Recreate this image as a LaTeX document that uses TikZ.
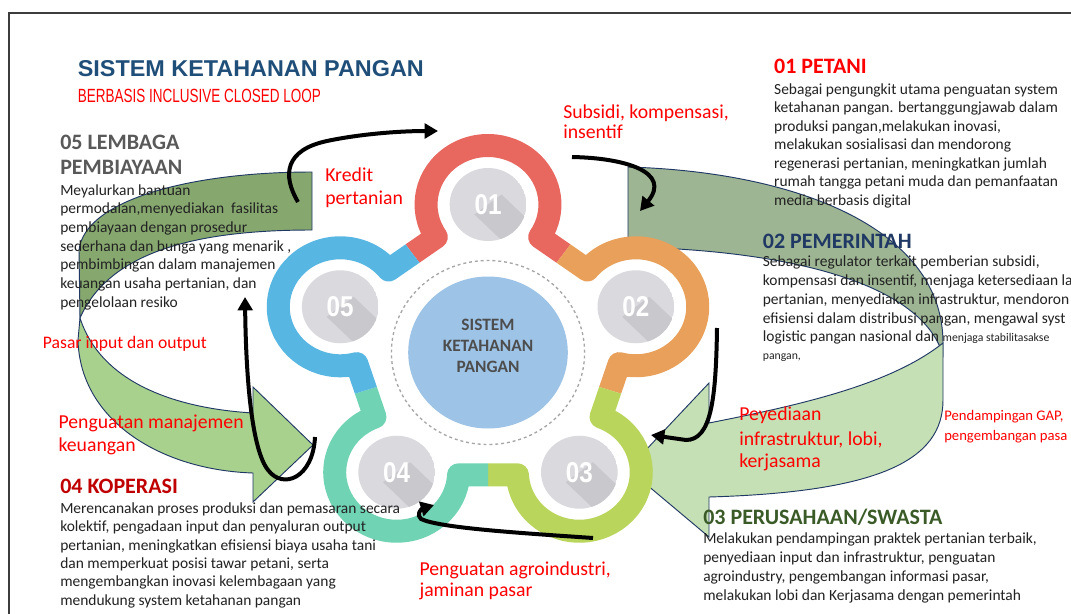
\documentclass[tikz,border=0pt]{standalone}
\usepackage{fontspec}
\setmainfont{Carlito}
\newfontfamily\titlefont{Liberation Sans}
\usetikzlibrary{arrows.meta}
\definecolor{c1}{HTML}{E8675F}
\definecolor{c2}{HTML}{E8A05A}
\definecolor{c3}{HTML}{B9D55B}
\definecolor{c4}{HTML}{70D3B3}
\definecolor{c5}{HTML}{58B6E2}
\definecolor{diskc}{HTML}{DADADE}
\definecolor{diskshadow}{HTML}{C9C9CD}
\definecolor{core}{HTML}{9DC3E6}
\definecolor{navy}{HTML}{1F3864}
\definecolor{titleblue}{HTML}{1F4E79}
\definecolor{darkred}{HTML}{C00000}
\definecolor{dkgreen}{HTML}{3A5A27}
\definecolor{headgray}{HTML}{595959}
\definecolor{bodytext}{HTML}{222222}
\definecolor{coretext}{HTML}{4D4D4D}
\definecolor{lgA}{HTML}{86A86F}
\definecolor{lgB}{HTML}{A9D18E}
\definecolor{rgA}{HTML}{9DB592}
\definecolor{rgB}{HTML}{C5E0B4}
\definecolor{outline}{HTML}{203864}
\definecolor{framec}{HTML}{3C3C3C}
\tikzset{
  body/.style={anchor=base west, inner sep=0pt, text=bodytext, font=\fontsize{11.6}{13.6}\selectfont},
  head/.style={anchor=base west, inner sep=0pt, font=\fontsize{16.5}{20}\selectfont\bfseries},
  lbl/.style={anchor=base west, inner sep=0pt, text=red, font=\fontsize{#1}{#1}\selectfont},
  lbl/.default=14.8,
  band/.style={draw=outline, line width=0.7pt},
  flow/.style={line width=3pt, -{Triangle[length=10pt,width=11pt]}},
  coretxt/.style={anchor=base, inner sep=0pt, text=coretext, font=\fontsize{13}{15}\selectfont\bfseries},
  numtxt/.style={inner sep=0pt, text=white},
  flower/.style={insert path={(-49.20,115.44) arc[start angle=213.5, end angle=-33.5, radius=59]
     -- (94.59,82.46) arc[start angle=141.5, end angle=-105.5, radius=59]
     -- (107.65,-64.46) arc[start angle=69.5, end angle=-177.5, radius=59]
     -- (-28.05,-122.30) arc[start angle=-2.5, end angle=-249.5, radius=59]
     -- (-124.99,-11.12) arc[start angle=-74.5, end angle=-321.5, radius=59] -- cycle}}
}
\begin{document}
\begin{tikzpicture}[x=0.75pt,y=-0.75pt]
\useasboundingbox (0,0) rectangle (1071,614);
\fill[white] (0,0) rectangle (1071,614);
% frame
\draw[framec, line width=1.5pt] (1085,12.7) -- (8.6,12.7) -- (8.6,630);

% ---- right curved arrow
\filldraw[band, fill=rgA] (628,167) .. controls (800,172) and (943,230) .. (943,343)
   -- (943,355) .. controls (920,280) and (780,250) .. (628,247) -- cycle;
\filldraw[band, fill=rgB] (943,343) -- (943,400) .. controls (943,460) and (880,492) .. (709,497)
   -- (709,537) -- (628,469) -- (709,383) -- (709,423) .. controls (800,405) and (890,385) .. (943,343) -- cycle;
% ---- left curved arrow
\filldraw[band, fill=lgA] (312,172) .. controls (190,172) and (85,200) .. (79,250) -- (80,318)
   .. controls (110,250) and (200,230) .. (312,230) -- cycle;
\filldraw[band, fill=lgB] (80,318) .. controls (100,380) and (170,408) .. (253,413) -- (253,387)
   -- (313,445) -- (253,502) -- (253,473) .. controls (160,470) and (80,420) .. (78,340) -- cycle;

% ---- infographic
\begin{scope}[shift={(488,352.5)}, xscale=1.05, yscale=-1]
  \fill[white, flower];
  \foreach \a/\c in {90/c1, 18/c2, -54/c3, -126/c4, 162/c5} {
    \begin{scope}
      \clip (0,0) -- ({\a-36}:260) arc[start angle={\a-36}, end angle={\a+36}, radius=260] -- cycle;
      \draw[\c, line width=17.25pt, line join=round, flower];
    \end{scope}
  }
  \foreach \a/\n in {90/01, 18/02, -54/03, -126/04, 162/05} {
    \path (\a:148) coordinate (cc\n);
    \begin{scope}
      \clip (cc\n) circle (36.5);
      \fill[diskc] (cc\n) circle (36.5);
      \fill[diskshadow] (cc\n) ++(12.9,10) -- ++(70,-70) -- ++(-25.8,-20) -- ++(-70,70) -- cycle;
    \end{scope}
  }
  \draw[black!35, line width=1pt, dash pattern=on 2.2pt off 2.2pt] (0,0) circle (92);
  \fill[core] (0,0) circle (76);
\end{scope}
\foreach \n in {01,02,03,04,05}
  \node[numtxt] (num\n) at (cc\n) {\resizebox{20.2pt}{15pt}{\titlefont\bfseries \n}};

\node[coretxt] (core1) at (488,330) {SISTEM};
\node[coretxt] (core2) at (488,351.5) {KETAHANAN};
\node[coretxt] (core3) at (488,372.5) {PANGAN};

% ---- title
\node[anchor=base west, inner sep=0pt, text=titleblue] (title) at (77.6,76)
  {\resizebox{259.4pt}{12pt}{\titlefont\bfseries SISTEM KETAHANAN PANGAN}};
\node[anchor=base west, inner sep=0pt, text=red] (subtitle) at (77.6,102.7)
  {\resizebox{182.3pt}{10pt}{\titlefont BERBASIS INCLUSIVE CLOSED LOOP}};

% ---- 01 PETANI
\node[head, text=red] (h1) at (773.9,73.3) {01 PETANI};
\foreach \t [count=\k from 0] in {{Sebagai pengungkit utama penguatan system},{ketahanan pangan. bertanggungjawab dalam},{produksi pangan,melakukan inovasi,},{melakukan sosialisasi dan mendorong},{regenerasi pertanian, meningkatkan jumlah},{rumah tangga petani muda dan pemanfaatan},{media berbasis digital}}
  \node[body] (p1-\k) at (773.9,94+18.5*\k) {\t};

% ---- 02 PEMERINTAH
\node[head, text=navy] (h2) at (762.6,248.3) {02 PEMERINTAH};
\foreach \t [count=\k from 0] in {{Sebagai regulator terkait pemberian subsidi,},{kompensasi dan insentif, menjaga ketersediaan la},{pertanian, menyediakan infrastruktur, mendoron},{efisiensi dalam distribusi pangan, mengawal syst}}
  \node[body] (p2-\k) at (762.6,266.7+18.8*\k) {\t};
\node[body] (p2-4) at (762.6,341.7) {logistic pangan nasional dan {\fontsize{8.8}{10}\selectfont menjaga stabilitasakse}};
\node[body, font=\fontsize{8.8}{10}\selectfont] (p2-5) at (762.6,359.3) {pangan,};

% ---- 03 PERUSAHAAN/SWASTA
\node[head, text=dkgreen] (h3) at (703,524) {03 PERUSAHAAN/SWASTA};
\foreach \t [count=\k from 0] in {{Melakukan pendampingan praktek pertanian terbaik,},{penyediaan input dan infrastruktur, penguatan},{agroindustry, pengembangan informasi pasar,},{melakukan lobi dan Kerjasama dengan pemerintah}}
  \node[body] (p3-\k) at (703,543.3+18.9*\k) {\t};

% ---- 04 KOPERASI
\node[head, text=darkred] (h4) at (60,493.3) {04 KOPERASI};
\foreach \t [count=\k from 0] in {{Merencanakan proses produksi dan pemasaran secara},{kolektif, pengadaan input dan penyaluran output},{pertanian, meningkatkan efisiensi biaya usaha tani},{dan memperkuat posisi tawar petani, serta},{mengembangkan inovasi kelembagaan yang},{mendukung system ketahanan pangan}}
  \node[body] (p4-\k) at (60,513.3+18.35*\k) {\t};

% ---- 05 LEMBAGA PEMBIAYAAN
\node[head, text=headgray] (h5a) at (60,149.3) {05 LEMBAGA};
\node[head, text=headgray] (h5b) at (60,174.3) {PEMBIAYAAN};
\foreach \t [count=\k from 0] in {{Meyalurkan bantuan},{permodalan,menyediakan\ \ fasilitas},{pembiayaan dengan prosedur},{sederhana dan bunga yang menarik ,},{pembimbingan dalam manajemen},{keuangan usaha pertanian, dan},{pengelolaan resiko}}
  \node[body] (p5-\k) at (60,195+18.7*\k) {\t};

% ---- red flow labels
\node[lbl] (l1a) at (563,118.3) {Subsidi, kompensasi,};
\node[lbl] (l1b) at (563,138.5) {insentif};
\node[lbl] (l5a) at (325,181.7) {Kredit};
\node[lbl] (l5b) at (325,204.3) {pertanian};
\node[lbl=13.2] (l5c) at (42.7,348.3) {Pasar input dan output};
\node[lbl] (l4a) at (58.3,428.3) {Penguatan manajemen};
\node[lbl] (l4b) at (58.3,451.7) {keuangan};
\node[lbl] (l2a) at (739,420) {Peyediaan};
\node[lbl] (l2b) at (739,445) {infrastruktur, lobi,};
\node[lbl] (l2c) at (739,467.3) {kerjasama};
\node[lbl=11] (l2d) at (944,420) {Pendampingan GAP,};
\node[lbl=11] (l2e) at (944,440) {pengembangan pasa};
\node[lbl] (l3a) at (419.3,575) {Penguatan agroindustri,};
\node[lbl] (l3b) at (419.3,596.7) {jaminan pasar};

% ---- black flow arrows
\coordinate (aAs) at (298,202); \coordinate (aAe) at (438,131);
\draw[flow] (aAs) .. controls (282,175) and (285,150) .. (327,141) .. controls (360,134) and (400,131) .. (aAe);
\coordinate (aBs) at (572,157); \coordinate (aBe) at (640,211);
\draw[flow] (aBs) .. controls (625,158) and (672,172) .. (aBe);
\coordinate (aCs) at (717,328); \coordinate (aCe) at (651,435);
\draw[flow] (aCs) .. controls (716,400) and (711,440) .. (686,440) -- (aCe);
\coordinate (aDs) at (593,538); \coordinate (aDe) at (434,505);
\draw[flow] (aDs) .. controls (520,533) and (440,528) .. (421,519) .. controls (416,515) and (421,509) .. (aDe);
\coordinate (aEs) at (315,437); \coordinate (aEe) at (245,297);
\draw[flow] (aEs) .. controls (313,478) and (283,490) .. (268,470) .. controls (252,450) and (246,380) .. (aEe);
\end{tikzpicture}
\end{document}
